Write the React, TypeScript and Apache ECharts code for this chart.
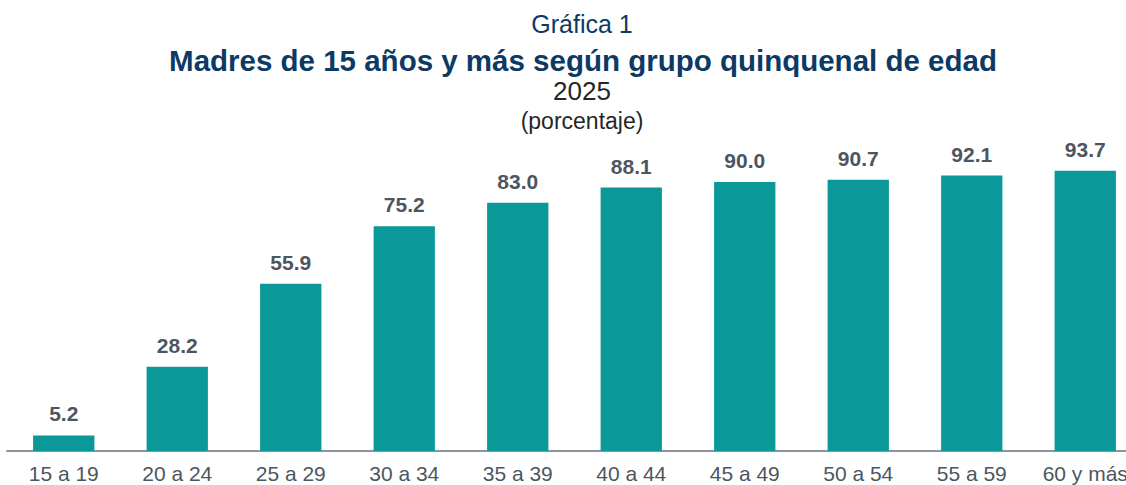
import React, { useEffect, useRef } from "react";
import * as echarts from "echarts";

const categories = ["15 a 19", "20 a 24", "25 a 29", "30 a 34", "35 a 39", "40 a 44", "45 a 49", "50 a 54", "55 a 59", "60 y más"];
const values = [5.2, 28.2, 55.9, 75.2, 83.0, 88.1, 90.0, 90.7, 92.1, 93.7];
const titleLines = ["Gráfica 1", "Madres de 15 años y más según grupo quinquenal de edad", "2025", "(porcentaje)"];

export default function App() {
  const ref = useRef<HTMLDivElement>(null);
  useEffect(() => {
    document.body.style.margin = "0";
    document.body.style.overflow = "hidden";
    const chart = echarts.init(ref.current!, null, { renderer: "svg" });
    const font = "'Liberation Sans', Arial, sans-serif";
    chart.setOption({
      animation: false,
      textStyle: { fontFamily: font },
      graphic: [
        { type: "text", x: 582, y: 24, style: { text: titleLines[0], textAlign: "center", textVerticalAlign: "middle", fill: "#0d3a64", font: `25px ${font}` } },
        { type: "text", x: 583, y: 60, style: { text: titleLines[1], textAlign: "center", textVerticalAlign: "middle", fill: "#0d3a64", font: `bold 29.5px ${font}` } },
        { type: "text", x: 582, y: 91, style: { text: titleLines[2], textAlign: "center", textVerticalAlign: "middle", fill: "#262626", font: `26px ${font}` } },
        { type: "text", x: 582, y: 121, style: { text: titleLines[3], textAlign: "center", textVerticalAlign: "middle", fill: "#262626", font: `23px ${font}` } },
      ],
      grid: { left: 7, right: 0, top: 152, bottom: 34, containLabel: false },
      xAxis: {
        type: "category",
        data: categories,
        axisLine: { lineStyle: { color: "#8c959c", width: 2 } },
        axisTick: { show: false },
        axisLabel: { color: "#4d5660", fontSize: 21, margin: 12, fontFamily: font, interval: 0 },
      },
      yAxis: { type: "value", min: 0, max: 100, show: false, splitLine: { show: false } },
      series: [
        {
          type: "bar",
          data: values,
          barWidth: "54%",
          itemStyle: { color: "#0a9899" },
          label: { show: true, position: "top", distance: 11, color: "#4d5660", fontWeight: "bold", fontSize: 21, fontFamily: font, formatter: (p: any) => p.value.toFixed(1) },
        },
      ],
    });
    return () => chart.dispose();
  }, []);
  return <div ref={ref} style={{ width: 1142, height: 485 }} />;
}
